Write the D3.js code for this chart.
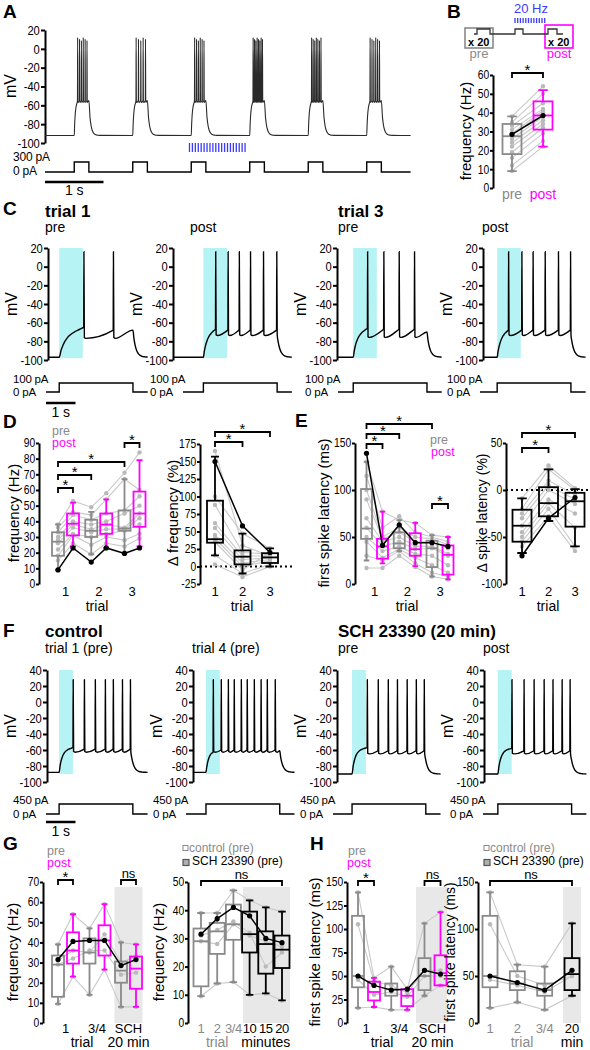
<!DOCTYPE html>
<html><head><meta charset="utf-8">
<script src="https://cdn.jsdelivr.net/npm/d3@7"></script>
<style>
html,body{margin:0;padding:0;background:#fff;}
svg{display:block;font-family:"Liberation Sans",Arial,Helvetica,sans-serif;}
</style></head><body>
<svg id="fig" width="590" height="1050"></svg>
<script>
/* ================= DATA ================= */
// A : repeated 300 pA steps, spikes per step, 20 Hz stimulation window
const aStepOnsets=[0.5,1.5,2.5,3.5,4.5,5.5];
const aStepDur=0.25;
const aSpikeCounts=[6,5,6,8,7,6];
const aRestMv=-92, aPlateauMv=-55, aPeakMv=12;
const aStepPA=300;
const aStimWindow=[2.47,3.47];
const aStimCount=20;
const mvTicks=[20,0,-20,-40,-60,-80,-100];

// B : pre vs post frequency
const bGroups=["pre","post"];
const bPreCells=[9,12,16,19,22,24,26,28,29,31,33,35,38];
const bPostCells=[22,25,29,32,34,36,38,40,41,42,45,50,54];
const bPreStats=[9,18,27.5,34,38];
const bPostStats=[22,31,38.5,46,52];
const bMeans=[28.5,38.5];
const bTicks=[0,10,20,30,40,50,60];

// C : example traces (time in s from step onset)
const cTitles=["trial 1","trial 3"];
const cSubs=["pre","post","pre","post"];
const cStart=[-0.38,-1.03,-0.55,-0.48];
const cSpikes=[[0.83,1.83],[0.41,0.83,1.21,1.59,2.03,2.48],[0.48,1.03,1.55,2.07],[0.38,0.83,1.21,1.62,2.07,2.48]];
const cRest=[-97,-97,-97,-97];
const cFirstThr=[-65,-67,-66,-68];
const cThr=[-68,-68,-67,-68];
const cAhp=[-76,-73,-75,-73];
const cEnd=[-68,-70,-70,-70];
const cPeak=16, cStepPA=100, cStepEnd=2.5, cShadeEnd=0.8;

// D : frequency per trial (pre1, post1, pre2, post2, pre3, post3)
const dTrials=["1","2","3"];
const dFreqStats=[[9,18,27,33,38],[24,31,38.5,45,52],[19,30,34,41,46],[23,32,38,45,54],[20,34,35.5,47,67],[24,36.5,45,59,79]];
const dFreqCells=[[38,53,49,58,71,84],[36,46,44,54,67,60],[33,44,41,45,47,56],[30,40,38,40,45,50],[28,38,35,38,36,45],[26,36,33,35,35,42],[22,32,30,32,34,38],[18,31,25,30,28,32],[15,26,19,26,24,29]];
const dFreqExample=[9,23,14,23,19.5,23];
const dFreqTicks=[0,10,20,30,40,50,60,70,80,90];
const dDeltaStats=[[16,34,39,94,157],[-10,3,14,23,47],[0,5,13,19,26]];
const dDeltaCells=[[165,30,15],[100,47,26],[88,20,18],[62,15,15],[55,10,12],[45,5,10],[40,0,8],[35,-5,20],[16,-10,3],[3,-15,0]];
const dDeltaExample=[150,58,20];
const dDeltaTicks=[-25,0,25,50,75,100,125,150,175];

// E : first spike latency
const eLatStats=[[25,48,59,101,130],[22,27,40,48,77],[35,38,43,55,68],[19,30,37,54,65],[8,18,38,46,52],[5,10,31,41,50]];
const eLatCells=[[130,77,68,65,52,50],[115,60,72,55,50,45],[100,50,60,50,48,42],[90,48,55,45,45,38],[70,45,50,40,40,32],[60,40,45,37,38,30],[50,35,40,32,30,20],[45,28,37,28,20,12],[30,25,35,22,12,8],[17,17,30,18,8,5]];
const eLatExample=[139,41,63,44,44,40];
const eLatTicks=[0,50,100,150];
const eDeltaStats=[[-67,-55,-38,-21,-9],[-33,-28,-14,3,22],[-60,-39,-12,-3,1]];
const eDeltaCells=[[-9,26,2],[-20,22,0],[-25,10,-5],[-30,5,-10],[-38,0,-15],[-45,-10,-25],[-50,-14,-40],[-55,-20,-60],[-60,-28,-65]];
const eDeltaExample=[-70,-30,-8];
const eDeltaTicks=[-100,-50,0,50];

// F : control / SCH 23390 traces
const fTitles=["control","SCH 23390 (20 min)"];
const fSubs=["trial 1 (pre)","trial 4 (pre)","pre","post"];
const fStart=[-0.41,-0.44,-0.51,-0.47];
const fSpikes=[[0.47,0.85,1.22,1.56,1.83,2.14,2.41],[0.24,0.51,0.75,0.95,1.19,1.39,1.63,1.86,2.07,2.34],[0.51,0.88,1.22,1.53,1.86,2.17,2.44],[0.47,0.88,1.22,1.56,1.86,2.17,2.44]];
const fRest=[-88,-88,-90,-90];
const fFirstThr=[-57,-63,-57,-58];
const fThr=[-59,-60,-61,-61];
const fAhp=[-62,-62,-64,-64];
const fEnd=[-60,-61,-62,-62];
const fPeak=28, fStepPA=450, fShadeEnd=0.47;
const fMvTicks=[40,20,0,-20,-40,-60,-80,-100];

// G : frequency, control vs SCH
const gCats=["1","3/4","SCH"];
const gFreqStats=[[9.5,13,29,33.5,39],[23,29.5,36,45,54],[14,29.5,35,42,47],[26.5,33.5,41,48.5,59],[8,20,26,30.5,40],[8,17,27,33,39]];
const gFreqMean=[31.5,40.5,41,41,28.5,31.5];
const gFreqCells=[[39,54,47,59,40,39],[31,36,35,44,30,33],[29,32,36,36,24,25],[9.5,23,14,26.5,8,8]];
const gFreqTicks=[0,10,20,30,40,50,60,70];
const gTimeLabels=["1","2","3/4","10","15","20"];
const gTimeStats=[[9.5,13,29,33.5,39],[14,24.5,32.5,35.5,39],[14.5,29.5,35,42,47],[10,25,31.5,39.5,43.5],[10.5,17.5,28,32.5,41],[8,19.5,26,31,39.5]];
const gTimeMean=[31.5,37,41,38,30,28.5];
const gTimeCells=[[39,39,47,43.5,41,39.5],[31,33,36,32,20,25],[29,28,35,31,29,27],[9.5,14,14.5,10,10.5,8]];
const gTimeTicks=[0,10,20,30,40,50];

// H : latency, control vs SCH
const hLatStats=[[16,38,50,114,139],[17,24,33,44,48],[14,29,36,42,60],[14,18,29,36,36],[29,35,50,69,106],[40,40,53,72,118]];
const hLatMean=[50,40,35,36,56,52];
const hLatCells=[[139,48,60,36,106,118],[105,44,40,32,56,56],[46,30,33,28,50,50],[16,17,14,14,29,40]];
const hLatTicks=[0,25,50,75,100,125,150];
const hTimeLabels=["1","2","3/4","20"];
const hTimeStats=[[16,38,50,114,139],[22,35,42,55,62],[14,29,35,42,60],[29,35,52,69,106]];
const hTimeMean=[50,43,35,56];
const hTimeCells=[[139,62,60,106],[105,50,40,50],[46,40,33,50],[16,22,14,29]];
const hTimeTicks=[0,50,100,150];

/* ================= HELPERS ================= */
const svg=d3.select("#fig");
const GRAY="#8a8a8a", LG="#c9c9c9", DOT="#b9b9b9", MAG="#ff00ff", CYAN="#b6f3f5", BLUE="#3b3bff", SHADE="#e8e8e8";
const PX=29.5;

function T(x,y,s,o={}){
  const t=svg.append("text").attr("x",x).attr("y",y).text(s)
    .attr("font-size",o.size||13).attr("fill",o.fill||"#000");
  if(o.bold) t.attr("font-weight","bold");
  if(o.anchor) t.attr("text-anchor",o.anchor);
  if(o.ls!==undefined) t.attr("letter-spacing",o.ls);
  return t;
}
function R(x,y,s,size){
  svg.append("text").attr("transform",`translate(${x},${y}) rotate(-90)`)
    .attr("text-anchor","middle").attr("dominant-baseline","central")
    .attr("font-size",size||15).attr("fill","#000").text(s);
}
function yAxis(x,scale,ticks,fs,tsz){
  const g=svg.append("g").attr("transform",`translate(${x},0)`)
    .call(d3.axisLeft(scale).tickValues(ticks).tickSize(tsz||4).tickSizeOuter(0).tickPadding(tsz?1.5:2).tickFormat(d=>String(d)));
  g.attr("font-family",null).attr("font-size",null);
  g.select(".domain").attr("stroke","#000").attr("stroke-width",2);
  g.selectAll(".tick line").attr("stroke","#000").attr("stroke-width",2);
  g.selectAll(".tick text").attr("fill","#000").attr("font-size",fs||13).attr("transform","scale(0.86,1)");
  return g;
}
function bracket(x1,x2,y,label){
  svg.append("path").attr("d",`M${x1},${y+5}V${y}H${x2}V${y+5}`)
    .attr("fill","none").attr("stroke","#000").attr("stroke-width",1.8);
  if(label==="*") T((x1+x2)/2,y+2,"*",{anchor:"middle",size:15});
  else T((x1+x2)/2,y-2,label,{anchor:"middle",size:13});
}
function drawBox(x,w,s,y,color,sw){
  const g=svg.append("g").attr("stroke",color).attr("stroke-width",sw||1.8).attr("fill","none");
  const cw=w*0.5;
  g.append("path").attr("d",`M${x},${y(s[0])}V${y(s[1])}M${x},${y(s[3])}V${y(s[4])}M${x-cw/2},${y(s[0])}H${x+cw/2}M${x-cw/2},${y(s[4])}H${x+cw/2}`);
  g.append("rect").attr("x",x-w/2).attr("y",y(s[3])).attr("width",w).attr("height",y(s[1])-y(s[3]));
  g.append("path").attr("d",`M${x-w/2},${y(s[2])}H${x+w/2}`);
}
function drawCells(xs,cells,y){
  cells.forEach(c=>svg.append("path").attr("d",d3.line()(c.map((v,i)=>[xs[i],y(v)])))
    .attr("fill","none").attr("stroke",LG).attr("stroke-width",1.1));
  cells.forEach(c=>c.forEach((v,i)=>svg.append("circle").attr("cx",xs[i]).attr("cy",y(v)).attr("r",2.2).attr("fill",DOT)));
}
function drawMean(xs,vals,y){
  svg.append("path").attr("d",d3.line()(vals.map((v,i)=>[xs[i],y(v)])))
    .attr("fill","none").attr("stroke","#000").attr("stroke-width",1.5);
  vals.forEach((v,i)=>svg.append("circle").attr("cx",xs[i]).attr("cy",y(v)).attr("r",2.6).attr("fill","#000"));
}
function buildTrace(sp,p){
  const pts=[[p.tStart,p.v0],[0,p.v0]];
  const t1=sp[0];
  const base=t=>p.vinf+(p.v0-p.vinf)*Math.exp(-t/p.tau);
  const corr=p.thr1-base(t1);
  for(let i=1;i<=12;i++){const t=t1*i/13;pts.push([t,base(t)+corr*(t/t1)*(t/t1)]);}
  sp.forEach((ts,i)=>{
    pts.push([ts,i===0?p.thr1:p.thr],[ts+0.008,p.peak],[ts+0.022,p.ahp]);
    const nx=sp[i+1];
    if(nx!==undefined){pts.push([ts+0.07,p.ahp-0.8],[nx-0.012,p.thr-0.3]);}
    else if(p.pEnd-ts>0.12){pts.push([ts+0.07,p.ahp-0.8],[p.pEnd,p.endV]);}
  });
  const last=pts[pts.length-1];const tD=last[0],vD=last[1];
  for(let i=1;i<=16;i++){const t=tD+(p.tEnd-tD)*i/16;pts.push([t,p.v0+(vD-p.v0)*Math.exp(-(t-tD)/0.09)]);}
  return pts;
}
function tracePanel(o){
  const x=d3.scaleLinear().domain([o.tStart,o.tEnd]).range([o.axisX,o.axisX+(o.tEnd-o.tStart)*PX]);
  svg.append("rect").attr("x",x(0)).attr("width",x(o.shadeEnd)-x(0))
    .attr("y",o.y(o.shadeTop)).attr("height",o.y(o.shadeBot)-o.y(o.shadeTop)).attr("fill",CYAN);
  yAxis(o.axisX,o.y,o.ticks);
  R(o.axisX-37,(o.y.range()[0]+o.y.range()[1])/2,"mV",16);
  const pts=buildTrace(o.spikes,{tStart:o.tStart,tEnd:o.tEnd,v0:o.v0,vinf:o.vinf,tau:o.tau,thr1:o.thr1,thr:o.thr,ahp:o.ahp,peak:o.peak,endV:o.endV,pEnd:o.pEnd});
  svg.append("path").attr("d",d3.line().x(d=>x(d[0])).y(d=>o.y(d[1])).curve(d3.curveMonotoneX)(pts))
    .attr("fill","none").attr("stroke","#000").attr("stroke-width",1.4);
  const t0=x.invert(o.curX0);
  const cur=[[t0,0],[0,0],[0,o.pa],[o.pEnd,o.pa],[o.pEnd,0],[o.tEnd,0]];
  svg.append("path").attr("d",d3.line().x(d=>x(d[0])).y(d=>o.yI(d[1]))(cur))
    .attr("fill","none").attr("stroke","#000").attr("stroke-width",1.4);
  T(o.curX0-33,o.yI(o.pa),o.pa+" pA",{size:11.5,ls:-0.2});
  T(o.curX0-33,o.yI(0)+3.5,"0 pA",{size:11.5,ls:-0.2});
  return x;
}

/* ================= PANEL A ================= */
T(3,18,"A",{size:19,bold:true});
{
  const x=d3.scaleLinear().domain([0,6.25]).range([45,410.6]);
  const y=d3.scaleLinear().domain([-100,20]).range([143,30]);
  const yI=d3.scaleLinear().domain([0,aStepPA]).range([172,162]);
  yAxis(45,y,mvTicks);
  R(10,86,"mV",16);
  const pts=[[0,aRestMv]];
  aStepOnsets.forEach((o,k)=>{
    pts.push([o,aRestMv]);
    for(let i=1;i<=7;i++){const t=o+0.05*i/8;pts.push([t,aPlateauMv+(aRestMv-aPlateauMv)*Math.exp(-(t-o)/0.018)]);}
    const n=aSpikeCounts[k];
    for(let j=0;j<n;j++){const ts=o+0.055+j*0.16/(n-1);pts.push([ts,aPlateauMv],[ts+0.003,aPeakMv-(j%3)*1.5],[ts+0.007,aPlateauMv-2]);}
    pts.push([o+aStepDur,aPlateauMv]);
    for(let i=1;i<=9;i++){const t=o+aStepDur+0.18*i/9;pts.push([t,aRestMv+(aPlateauMv-aRestMv)*Math.exp(-(t-o-aStepDur)/0.03)]);}
  });
  pts.push([6.25,aRestMv]);
  svg.append("path").attr("d",d3.line().x(d=>x(d[0])).y(d=>y(d[1])).curve(d3.curveMonotoneX)(pts))
    .attr("fill","none").attr("stroke","#2a2a2a").attr("stroke-width",1.1);
  const stimT=d3.range(aStimCount).map(i=>aStimWindow[0]+i*(aStimWindow[1]-aStimWindow[0])/aStimCount);
  stimT.forEach(t=>svg.append("line").attr("x1",x(t)).attr("x2",x(t)).attr("y1",143).attr("y2",152).attr("stroke",BLUE).attr("stroke-width",1.3));
  const cur=[[0,0]];
  aStepOnsets.forEach(o=>cur.push([o,0],[o,aStepPA],[o+aStepDur,aStepPA],[o+aStepDur,0]));
  cur.push([6.25,0]);
  svg.append("path").attr("d",d3.line().x(d=>x(d[0])).y(d=>yI(d[1]))(cur)).attr("fill","none").attr("stroke","#000").attr("stroke-width",1.4);
  T(13,161,aStepPA+" pA",{size:12,ls:-0.2});
  T(13,175,"0 pA",{size:12,ls:-0.2});
  svg.append("line").attr("x1",x(0)).attr("x2",x(1)).attr("y1",182).attr("y2",182).attr("stroke","#000").attr("stroke-width",2.5);
  T((x(0)+x(1))/2,195,"1 s",{anchor:"middle",size:14});
}

/* ================= PANEL B ================= */
T(447,18,"B",{size:19,bold:true});
{
  T(531,13,"20 Hz",{anchor:"middle",size:13,fill:BLUE});
  d3.range(12).forEach(i=>svg.append("line").attr("x1",515+i*2.7).attr("x2",515+i*2.7).attr("y1",18).attr("y2",23).attr("stroke",BLUE).attr("stroke-width",1.3));
  svg.append("rect").attr("x",465).attr("y",28).attr("width",28).attr("height",20).attr("fill","none").attr("stroke",GRAY).attr("stroke-width",1.6);
  svg.append("rect").attr("x",545).attr("y",25).attr("width",28).attr("height",23).attr("fill","none").attr("stroke",MAG).attr("stroke-width",1.6);
  svg.append("path").attr("d","M474,34H477V29H490V34H515V29H523V34H548V29H557V34H563").attr("fill","none").attr("stroke","#333").attr("stroke-width",1.3);
  T(468,46,"x 20",{size:11,bold:true});
  T(548,46,"x 20",{size:11,bold:true});
  T(479,58,"pre",{anchor:"middle",size:13,fill:GRAY});
  T(559,58,"post",{anchor:"middle",size:13,fill:MAG});
  const y=d3.scaleLinear().domain([0,60]).range([188,75]);
  const x=d3.scalePoint().domain(bGroups).range([512,543]);
  yAxis(493,y,bTicks,12,3);
  R(465,131,"frequency (Hz)",15);
  bPreCells.forEach((v,i)=>svg.append("line").attr("x1",x("pre")).attr("x2",x("post")).attr("y1",y(v)).attr("y2",y(bPostCells[i])).attr("stroke",LG).attr("stroke-width",1.1));
  bPreCells.forEach((v,i)=>{svg.append("circle").attr("cx",x("pre")).attr("cy",y(v)).attr("r",2.2).attr("fill",DOT);svg.append("circle").attr("cx",x("post")).attr("cy",y(bPostCells[i])).attr("r",2.2).attr("fill",DOT);});
  drawBox(x("pre"),19,bPreStats,y,GRAY);
  drawBox(x("post"),19,bPostStats,y,MAG);
  drawMean([x("pre"),x("post")],bMeans,y);
  bracket(x("pre"),x("post"),73,"*");
  T(x("pre"),199,"pre",{anchor:"middle",size:14,fill:GRAY});
  T(x("post"),199,"post",{anchor:"middle",size:14,fill:MAG});
}

/* ================= PANEL C ================= */
T(3,215,"C",{size:19,bold:true});
{
  const axisX=[48,173,337,483], curX0=[46,183,338,480], subX=[45,190,338,482];
  T(45,217,cTitles[0],{size:17,bold:true});
  T(338,217,cTitles[1],{size:17,bold:true});
  const y=d3.scaleLinear().domain([-100,20]).range([360,248]);
  const yI=d3.scaleLinear().domain([0,cStepPA]).range([392,383]);
  let x0;
  cSpikes.forEach((sp,i)=>{
    T(subX[i],232,cSubs[i],{size:14});
    const x=tracePanel({axisX:axisX[i],tStart:cStart[i],tEnd:3.0,y,yI,ticks:mvTicks,spikes:sp,v0:cRest[i],vinf:-70,tau:i===0?0.2:0.12,
      thr1:cFirstThr[i],thr:cThr[i],ahp:cAhp[i],peak:cPeak,endV:cEnd[i],pEnd:cStepEnd,shadeEnd:cShadeEnd,shadeTop:20,shadeBot:-98,curX0:curX0[i],pa:cStepPA});
    if(i===0) x0=x;
  });
  svg.append("line").attr("x1",46).attr("x2",46+x0(1)-x0(0)).attr("y1",403).attr("y2",403).attr("stroke","#000").attr("stroke-width",2.5);
  T(46+(x0(1)-x0(0))/2,417,"1 s",{anchor:"middle",size:14});
}

/* ================= PANEL D ================= */
T(3,428,"D",{size:19,bold:true});
{
  const y=d3.scaleLinear().domain([0,90]).range([584,443]);
  const xt=d3.scalePoint().domain(dTrials).range([65.5,132]);
  const xs=d3.range(6).map(i=>xt(dTrials[Math.floor(i/2)])+(i%2?7.5:-7.5));
  yAxis(39,y,dFreqTicks,12,3);
  R(13,513,"frequency (Hz)",15);
  drawCells(xs,dFreqCells,y);
  dFreqStats.forEach((s,i)=>drawBox(xs[i],12,s,y,i%2?MAG:GRAY));
  drawMean(xs,dFreqExample,y);
  bracket(xs[0],xs[1],488,"*");
  bracket(xs[0],xs[2],475,"*");
  bracket(xs[0],xs[4],462,"*");
  bracket(xs[4],xs[5],443,"*");
  T(52,434.5,"pre",{size:12.5,fill:GRAY});
  T(52,447,"post",{size:12.5,fill:MAG});
  dTrials.forEach(t=>T(xt(t),596,t,{anchor:"middle",size:13}));
  T(97,611,"trial",{anchor:"middle",size:14});

  const y2=d3.scaleLinear().domain([-25,175]).range([584,444]);
  const x2=d3.scalePoint().domain(dTrials).range([215,270]);
  const xs2=dTrials.map(t=>x2(t));
  svg.append("line").attr("x1",200).attr("x2",295).attr("y1",y2(0)).attr("y2",y2(0)).attr("stroke","#000").attr("stroke-width",2).attr("stroke-dasharray","2,3");
  yAxis(200,y2,dDeltaTicks,12,3);
  R(172,513,"Δ frequency (%)",15);
  drawCells(xs2,dDeltaCells,y2);
  dDeltaStats.forEach((s,i)=>drawBox(xs2[i],16,s,y2,"#000"));
  drawMean(xs2,dDeltaExample,y2);
  bracket(xs2[0],xs2[1],442,"*");
  bracket(xs2[0],xs2[2],432,"*");
  dTrials.forEach(t=>T(x2(t),596,t,{anchor:"middle",size:13}));
  T(242,611,"trial",{anchor:"middle",size:14});
}

/* ================= PANEL E ================= */
T(295,427,"E",{size:19,bold:true});
{
  const y=d3.scaleLinear().domain([0,150]).range([584,443]);
  const xt=d3.scalePoint().domain(dTrials).range([374.5,440]);
  const xs=d3.range(6).map(i=>xt(dTrials[Math.floor(i/2)])+(i%2?8:-8));
  yAxis(355,y,eLatTicks,12,3);
  R(323,513,"first spike latency (ms)",15);
  drawCells(xs,eLatCells,y);
  eLatStats.forEach((s,i)=>drawBox(xs[i],11,s,y,i%2?MAG:GRAY));
  drawMean(xs,eLatExample,y);
  bracket(xs[0],xs[1],444,"*");
  bracket(xs[0],xs[2],434,"*");
  bracket(xs[0],xs[4],424,"*");
  bracket(xs[4],xs[5],504,"*");
  T(430,443.5,"pre",{size:12.5,fill:GRAY});
  T(431,456,"post",{size:12.5,fill:MAG});
  dTrials.forEach(t=>T(xt(t),596,t,{anchor:"middle",size:13}));
  T(407,611,"trial",{anchor:"middle",size:14});

  const y2=d3.scaleLinear().domain([-100,50]).range([584,443]);
  const x2=d3.scalePoint().domain(dTrials).range([522,575]);
  const xs2=dTrials.map(t=>x2(t));
  svg.append("line").attr("x1",506).attr("x2",588).attr("y1",y2(0)).attr("y2",y2(0)).attr("stroke","#000").attr("stroke-width",2).attr("stroke-dasharray","2,3");
  yAxis(506,y2,eDeltaTicks,12,3);
  R(482,513,"Δ spike latency (%)",14);
  drawCells(xs2,eDeltaCells,y2);
  eDeltaStats.forEach((s,i)=>drawBox(xs2[i],19,s,y2,"#000"));
  drawMean(xs2,eDeltaExample,y2);
  bracket(xs2[0],xs2[1],448,"*");
  bracket(xs2[0],xs2[2],433,"*");
  dTrials.forEach(t=>T(x2(t),596,t,{anchor:"middle",size:13}));
  T(548,611,"trial",{anchor:"middle",size:14});
}

/* ================= PANEL F ================= */
T(3,637,"F",{size:19,bold:true});
{
  const axisX=[47,193,337,484], curX0=[46,186,333,483], subX=[45,192,338,483];
  T(45,637,fTitles[0],{size:17,bold:true});
  T(338,637,fTitles[1],{size:17,bold:true});
  const y=d3.scaleLinear().domain([-100,40]).range([782,670]);
  const yI=d3.scaleLinear().domain([0,fStepPA]).range([814,804]);
  let x0;
  fSpikes.forEach((sp,i)=>{
    T(subX[i],653,fSubs[i],{size:14});
    const x=tracePanel({axisX:axisX[i],tStart:fStart[i],tEnd:3.0,y,yI,ticks:fMvTicks,spikes:sp,v0:fRest[i],vinf:-59,tau:0.1,
      thr1:fFirstThr[i],thr:fThr[i],ahp:fAhp[i],peak:fPeak,endV:fEnd[i],pEnd:cStepEnd,shadeEnd:fShadeEnd,shadeTop:40,shadeBot:-90,curX0:curX0[i],pa:fStepPA});
    if(i===0) x0=x;
  });
  svg.append("line").attr("x1",46).attr("x2",46+x0(1)-x0(0)).attr("y1",822).attr("y2",822).attr("stroke","#000").attr("stroke-width",2.5);
  T(46+(x0(1)-x0(0))/2,836,"1 s",{anchor:"middle",size:14});
}

/* ================= PANEL G ================= */
T(3,850,"G",{size:19,bold:true});
function legendCS(x){
  svg.append("rect").attr("x",x).attr("y",845.5).attr("width",5).attr("height",5).attr("fill","#fff").attr("stroke",GRAY).attr("stroke-width",1);
  T(x+6,852,"control (pre)",{size:12,fill:GRAY});
  svg.append("rect").attr("x",x).attr("y",859.5).attr("width",6).attr("height",6).attr("fill","#b0b0b0").attr("stroke","#555").attr("stroke-width",1.2);
  T(x+9,865,"SCH 23390 (pre)",{size:12});
}
{
  const y=d3.scaleLinear().domain([0,70]).range([1023,882]);
  const xc=d3.scalePoint().domain(gCats).range([65.5,128.5]);
  const xs=d3.range(6).map(i=>xc(gCats[Math.floor(i/2)])+(i%2?7.5:-7.5));
  svg.append("rect").attr("x",xc("SCH")-14).attr("y",887).attr("width",28).attr("height",1023-887).attr("fill",SHADE);
  yAxis(43,y,gFreqTicks,12,3);
  R(12,952,"frequency (Hz)",15);
  drawCells(xs,gFreqCells,y);
  gFreqStats.forEach((s,i)=>drawBox(xs[i],12,s,y,i%2?MAG:GRAY));
  drawMean(xs,gFreqMean,y);
  bracket(xs[0],xs[1],880,"*");
  bracket(xs[4],xs[5],880,"ns");
  T(47,854.5,"pre",{size:12.5,fill:GRAY});
  T(47,867,"post",{size:12.5,fill:MAG});
  gCats.forEach(c=>T(xc(c),1033,c,{anchor:"middle",size:13}));
  T(82,1047,"trial",{anchor:"middle",size:14});
  T(xc("SCH"),1047,"20 min",{anchor:"middle",size:14});

  const y2=d3.scaleLinear().domain([0,50]).range([1023,882]);
  const x2=d3.scalePoint().domain(gTimeLabels).range([201,282]);
  const xs2=gTimeLabels.map(t=>x2(t));
  svg.append("rect").attr("x",243).attr("y",887).attr("width",47).attr("height",1023-887).attr("fill",SHADE);
  yAxis(188,y2,gTimeTicks,12,3);
  R(158,952,"frequency (Hz)",15);
  drawCells(xs2,gTimeCells,y2);
  gTimeStats.forEach((s,i)=>drawBox(xs2[i],15,s,y2,i<3?GRAY:"#000"));
  drawMean(xs2,gTimeMean,y2);
  bracket(xs2[0],xs2[5],881,"ns");
  legendCS(183);
  gTimeLabels.forEach((t,i)=>T(x2(t),1033,t,{anchor:"middle",size:13,ls:-0.4,fill:i<3?GRAY:"#000"}));
  T(x2("2"),1047,"trial",{anchor:"middle",size:14,fill:GRAY});
  T(x2("15"),1047,"minutes",{anchor:"middle",size:14});
}

/* ================= PANEL H ================= */
T(310,850,"H",{size:19,bold:true});
{
  const y=d3.scaleLinear().domain([0,150]).range([1023,882]);
  const xc=d3.scalePoint().domain(gCats).range([366,432.5]);
  const xs=d3.range(6).map(i=>xc(gCats[Math.floor(i/2)])+(i%2?8:-8));
  svg.append("rect").attr("x",416).attr("y",887).attr("width",31).attr("height",1023-887).attr("fill",SHADE);
  yAxis(347,y,hLatTicks,12,3);
  R(314,952,"first spike latency (ms)",15);
  drawCells(xs,hLatCells,y);
  hLatStats.forEach((s,i)=>drawBox(xs[i],12,s,y,i%2?MAG:GRAY));
  drawMean(xs,hLatMean,y);
  bracket(xs[0],xs[1],881,"*");
  bracket(xs[4],xs[5],881,"ns");
  T(348,854.5,"pre",{size:12.5,fill:GRAY});
  T(347,867,"post",{size:12.5,fill:MAG});
  gCats.forEach(c=>T(xc(c),1033,c,{anchor:"middle",size:13}));
  T(382,1047,"trial",{anchor:"middle",size:14});
  T(xc("SCH"),1047,"20 min",{anchor:"middle",size:14});

  const y2=d3.scaleLinear().domain([0,150]).range([1023,882]);
  const x2=d3.scalePoint().domain(hTimeLabels).range([490,572]);
  const xs2=hTimeLabels.map(t=>x2(t));
  svg.append("rect").attr("x",563).attr("y",887).attr("width",18).attr("height",1023-887).attr("fill",SHADE);
  yAxis(478,y2,hTimeTicks,12,3);
  R(450,952,"first spike latency (ms)",14);
  drawCells(xs2,hTimeCells,y2);
  hTimeStats.forEach((s,i)=>drawBox(xs2[i],15,s,y2,i<3?GRAY:"#000"));
  drawMean(xs2,hTimeMean,y2);
  bracket(xs2[0],xs2[3],881,"ns");
  legendCS(484);
  hTimeLabels.forEach((t,i)=>T(x2(t),1033,t,{anchor:"middle",size:13,fill:i<3?GRAY:"#000"}));
  T(522,1047,"trial",{anchor:"middle",size:14,fill:GRAY});
  T(x2("20"),1047,"min",{anchor:"middle",size:14});
}
</script>
</body></html>
